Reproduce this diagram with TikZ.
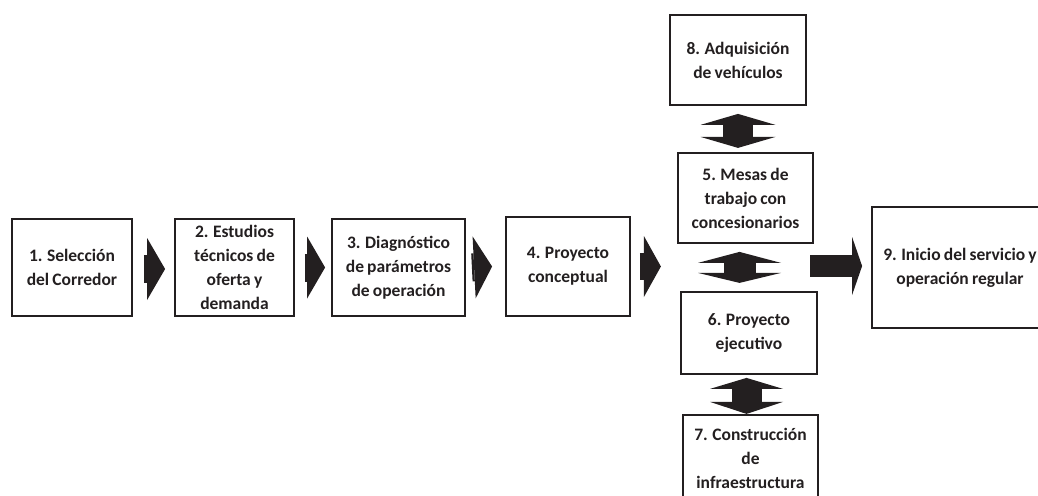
\documentclass[tikz,border=0pt]{standalone}
\usepackage{fontspec}
\setmainfont{Carlito}[WordSpace=0.8]
\usetikzlibrary{arrows.meta,calc}
\definecolor{ink}{HTML}{231F20}
\tikzset{
  box/.style={draw=ink, line width=1.8pt, align=center, text=ink,
    font=\bfseries\fontsize{17.5}{24}\selectfont, inner sep=0pt},
  blk/.style={draw=ink},
}
\begin{document}
\begin{tikzpicture}[x=1pt,y=-1pt]
\useasboundingbox (0,0) rectangle (1038,495);
\clip (0,0) rectangle (1038,495);
% boxes
\node[box, minimum width=120, minimum height=97] (b1) at (72,267.5) {1. Selección\\del Corredor};
\node[box, minimum width=119, minimum height=97] (b2) at (234.5,267.5) {2. Estudios\\técnicos de\\oferta y\\demanda};
\node[box, minimum width=133, minimum height=97] (b3) at (398.5,267.5) {3. Diagnóstico\\de parámetros\\de operación};
\node[box, minimum width=124, minimum height=99] (b4) at (568,266.5) {4. Proyecto\\conceptual};
\node[box, minimum width=136, minimum height=90] (b8) at (738,60) {8. Adquisición\\de vehículos};
\node[box, minimum width=135, minimum height=90] (b5) at (745.5,198) {5. Mesas de\\trabajo con\\concesionarios};
\node[box, minimum width=136, minimum height=82] (b6) at (749,333) {6. Proyecto\\ejecutivo};
\node[box, minimum width=135, minimum height=86] (b7) at (750.5,458) {7. Construcción\\de\\infraestructura};
\node[box, minimum width=176, minimum height=121] (b9) at (960,267.5) {9. Inicio del servicio y\\operación regular};
% horizontal block arrows
\draw[blk, line width=28pt, -{Triangle[length=18pt,width=62pt,line width=0pt]}]
  ($(b1.east)+(11,1.5)$) -- ($(b2.west)+(-9,1.5)$);
\draw[blk, line width=28pt, -{Triangle[length=18pt,width=62pt,line width=0pt]}]
  ($(b2.east)+(10,0)$) -- ($(b3.west)+(-6,0)$);
\draw[blk, line width=28pt, -{Triangle[length=18pt,width=62pt,line width=0pt]}]
  ($(b3.east)+(6,0)$) -- ($(b4.west)+(-13,0)$);
\draw[blk, line width=27pt, -{Triangle[length=17pt,width=61pt,line width=0pt]}]
  ($(b4.east)+(9,0)$) -- ($(b4.east)+(30,0)$);
\draw[blk, line width=22pt, -{Triangle[length=10pt,width=58pt,line width=0pt]}]
  ($(b9.west)+(-61,-1.5)$) -- ($(b9.west)+(-9,-1.5)$);
% vertical double arrows
\draw[blk, line width=30pt, {Triangle[length=11pt,width=75pt,line width=0pt]}-{Triangle[length=11pt,width=75pt,line width=0pt]}]
  ($(b8.south)+(0,8)$) -- ($(b8.south)+(0,42)$);
\draw[blk, line width=32pt, {Triangle[length=11pt,width=83pt,line width=0pt]}-{Triangle[length=10pt,width=83pt,line width=0pt]}]
  ($(b5.south)+(-6,8)$) -- ($(b5.south)+(-6,39)$);
\draw[blk, line width=30pt, {Triangle[length=11pt,width=73pt,line width=0pt]}-{Triangle[length=12pt,width=73pt,line width=0pt]}]
  ($(b6.south)+(-2.5,3)$) -- ($(b6.south)+(-2.5,39)$);
\end{tikzpicture}
\end{document}
